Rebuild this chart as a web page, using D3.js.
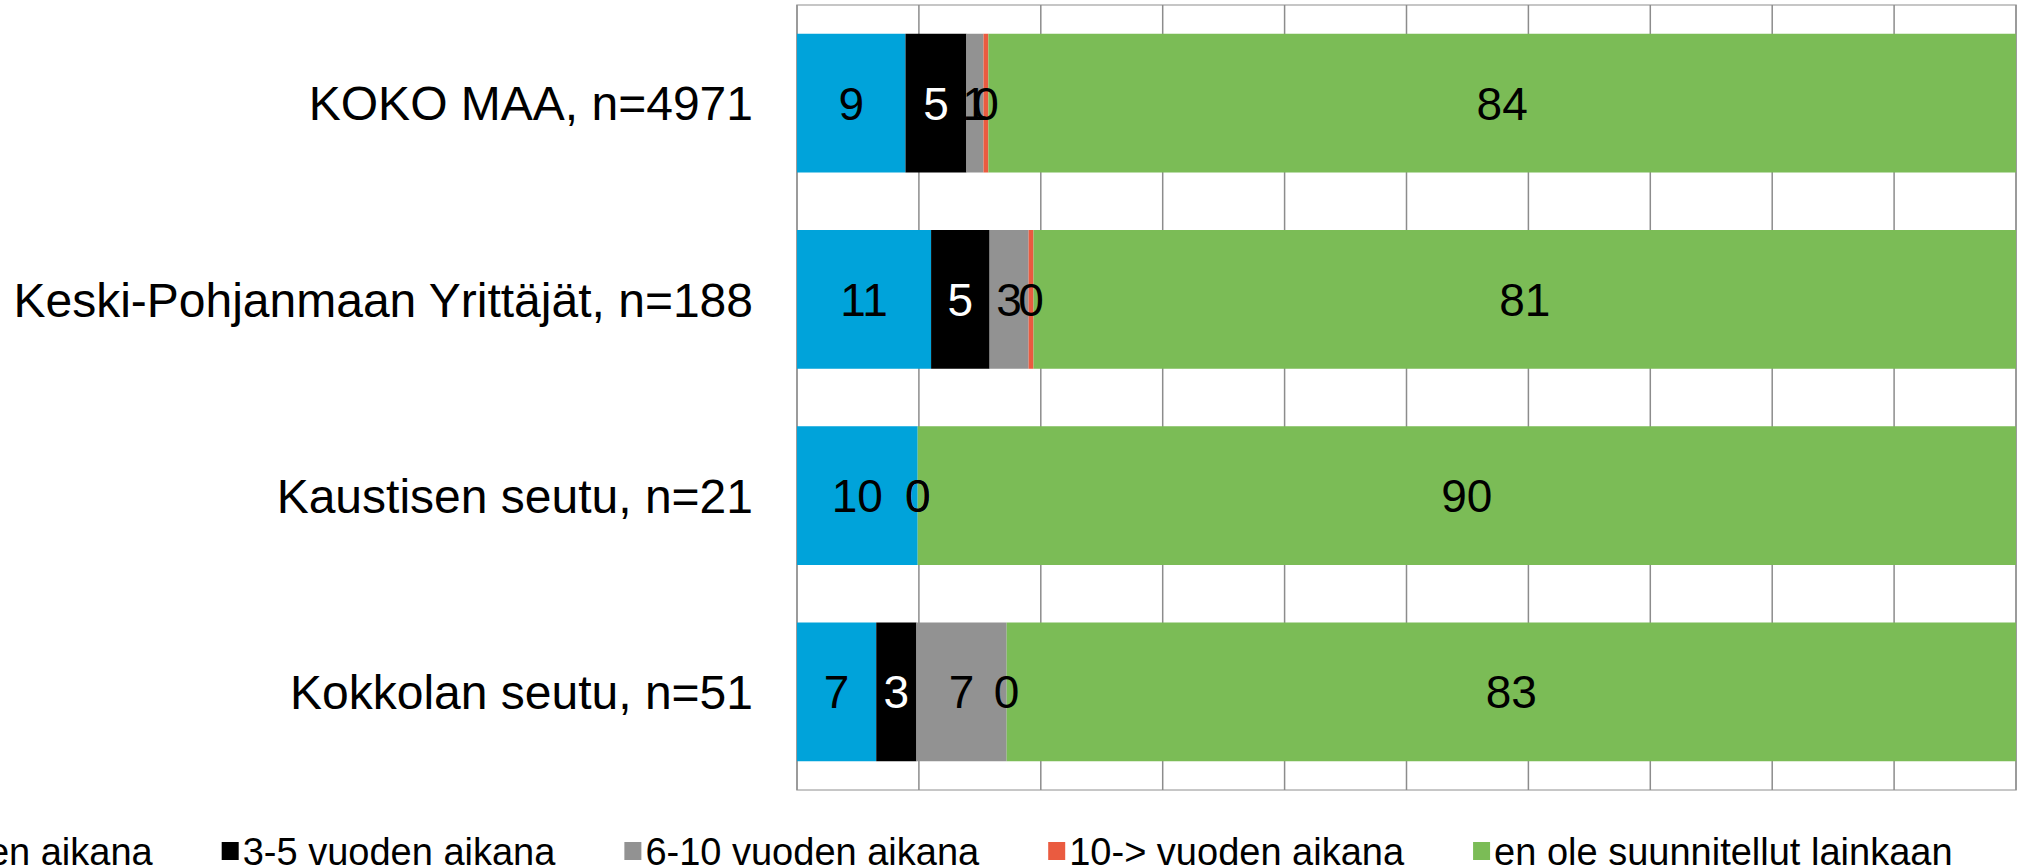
<!DOCTYPE html>
<html>
<head>
<meta charset="utf-8">
<script src="https://cdn.jsdelivr.net/npm/d3@7"></script>
<style>
  body { margin: 0; background: #fff; }
  svg { display: block; font-family: "Liberation Sans", Arial, sans-serif; }
</style>
</head>
<body>
<div id="chart"></div>
<script>
// categories (top to bottom)
const categories = ['KOKO MAA, n=4971', 'Keski-Pohjanmaan Yrittäjät, n=188', 'Kaustisen seutu, n=21', 'Kokkolan seutu, n=51'];
// series names (legend order)
const seriesNames = ['1-2 vuoden aikana', '3-5 vuoden aikana', '6-10 vuoden aikana', '10-> vuoden aikana', 'en ole suunnitellut lainkaan'];
const seriesColors = ['#00a3da', '#000000', '#929292', '#ea5b40', '#7bbc56'];
const labelColors = ['#000', '#fff', '#000', '#000', '#000'];
// percentages per series, one value per category
const s1to2 = [8.9, 11.0, 9.9, 6.5];
const s3to5 = [5.0, 4.8, 0, 3.3];
const s6to10 = [1.4, 3.2, 0, 7.4];
const s10plus = [0.4, 0.4, 0, 0];
const sNone = [84.3, 80.6, 90.1, 82.8];
const xTicks = [0, 10, 20, 30, 40, 50, 60, 70, 80, 90, 100];

const seriesValues = [s1to2, s3to5, s6to10, s10plus, sNone];
const keys = seriesNames;
const table = categories.map((c, i) => {
    const row = { cat: c };
    keys.forEach((k, j) => { row[k] = seriesValues[j][i]; });
    return row;
});

const W = 2019, H = 866;
const plot = { left: 797, top: 5, right: 2016, bottom: 790 };

const svg = d3.select('#chart').append('svg')
    .attr('width', W)
    .attr('height', H);

const xScale = d3.scaleLinear()
    .domain([0, 100])
    .range([plot.left, plot.right]);

const yScale = d3.scaleBand()
    .domain(categories)
    .range([plot.top, plot.bottom])
    .paddingInner(0.293)
    .paddingOuter(0.1465);

// plot border
svg.append('rect')
    .attr('x', plot.left)
    .attr('y', plot.top)
    .attr('width', plot.right - plot.left)
    .attr('height', plot.bottom - plot.top)
    .attr('fill', 'none')
    .attr('stroke', '#b4b4b4')
    .attr('stroke-width', 1.5);

// vertical gridlines
svg.append('g')
    .selectAll('line')
    .data(xTicks)
    .join('line')
    .attr('x1', d => xScale(d))
    .attr('x2', d => xScale(d))
    .attr('y1', plot.top)
    .attr('y2', plot.bottom)
    .attr('stroke', '#8c8c8c')
    .attr('stroke-width', 1.5);

const stacked = d3.stack().keys(keys)(table);

const layers = svg.append('g')
    .selectAll('g')
    .data(stacked)
    .join('g')
    .attr('fill', (d, i) => seriesColors[i]);

layers.selectAll('rect')
    .data(d => d)
    .join('rect')
    .attr('x', d => xScale(d[0]))
    .attr('y', d => yScale(d.data.cat))
    .attr('width', d => xScale(d[1]) - xScale(d[0]))
    .attr('height', yScale.bandwidth());

// data labels
const fmt = d3.format('.0f');
svg.append('g')
    .selectAll('g')
    .data(stacked)
    .join('g')
    .attr('fill', (d, i) => labelColors[i])
    .selectAll('text')
    .data(d => d)
    .join('text')
    .attr('x', d => xScale((d[0] + d[1]) / 2))
    .attr('y', d => yScale(d.data.cat) + yScale.bandwidth() / 2)
    .attr('dy', '0.36em')
    .attr('text-anchor', 'middle')
    .attr('font-size', 46)
    .text(d => fmt(d[1] - d[0]));

// category labels
svg.append('g')
    .selectAll('text')
    .data(categories)
    .join('text')
    .attr('x', 753)
    .attr('y', d => yScale(d) + yScale.bandwidth() / 2)
    .attr('dy', '0.36em')
    .attr('text-anchor', 'end')
    .attr('font-size', 48)
    .attr('fill', '#000')
    .text(d => d);

// legend, laid out left to right; first entry runs off the left edge
const legend = svg.append('g');
let lx = -181;
const ly = 851;
seriesNames.forEach((name, i) => {
    legend.append('rect')
        .attr('x', lx)
        .attr('y', ly - 9)
        .attr('width', 17)
        .attr('height', 18)
        .attr('fill', seriesColors[i]);
    const t = legend.append('text')
        .attr('x', lx + 21)
        .attr('y', ly)
        .attr('dy', '0.36em')
        .attr('font-size', 38)
        .attr('fill', '#000')
        .text(name);
    lx += 21 + t.node().getComputedTextLength() + 69;
});
</script>
</body>
</html>
